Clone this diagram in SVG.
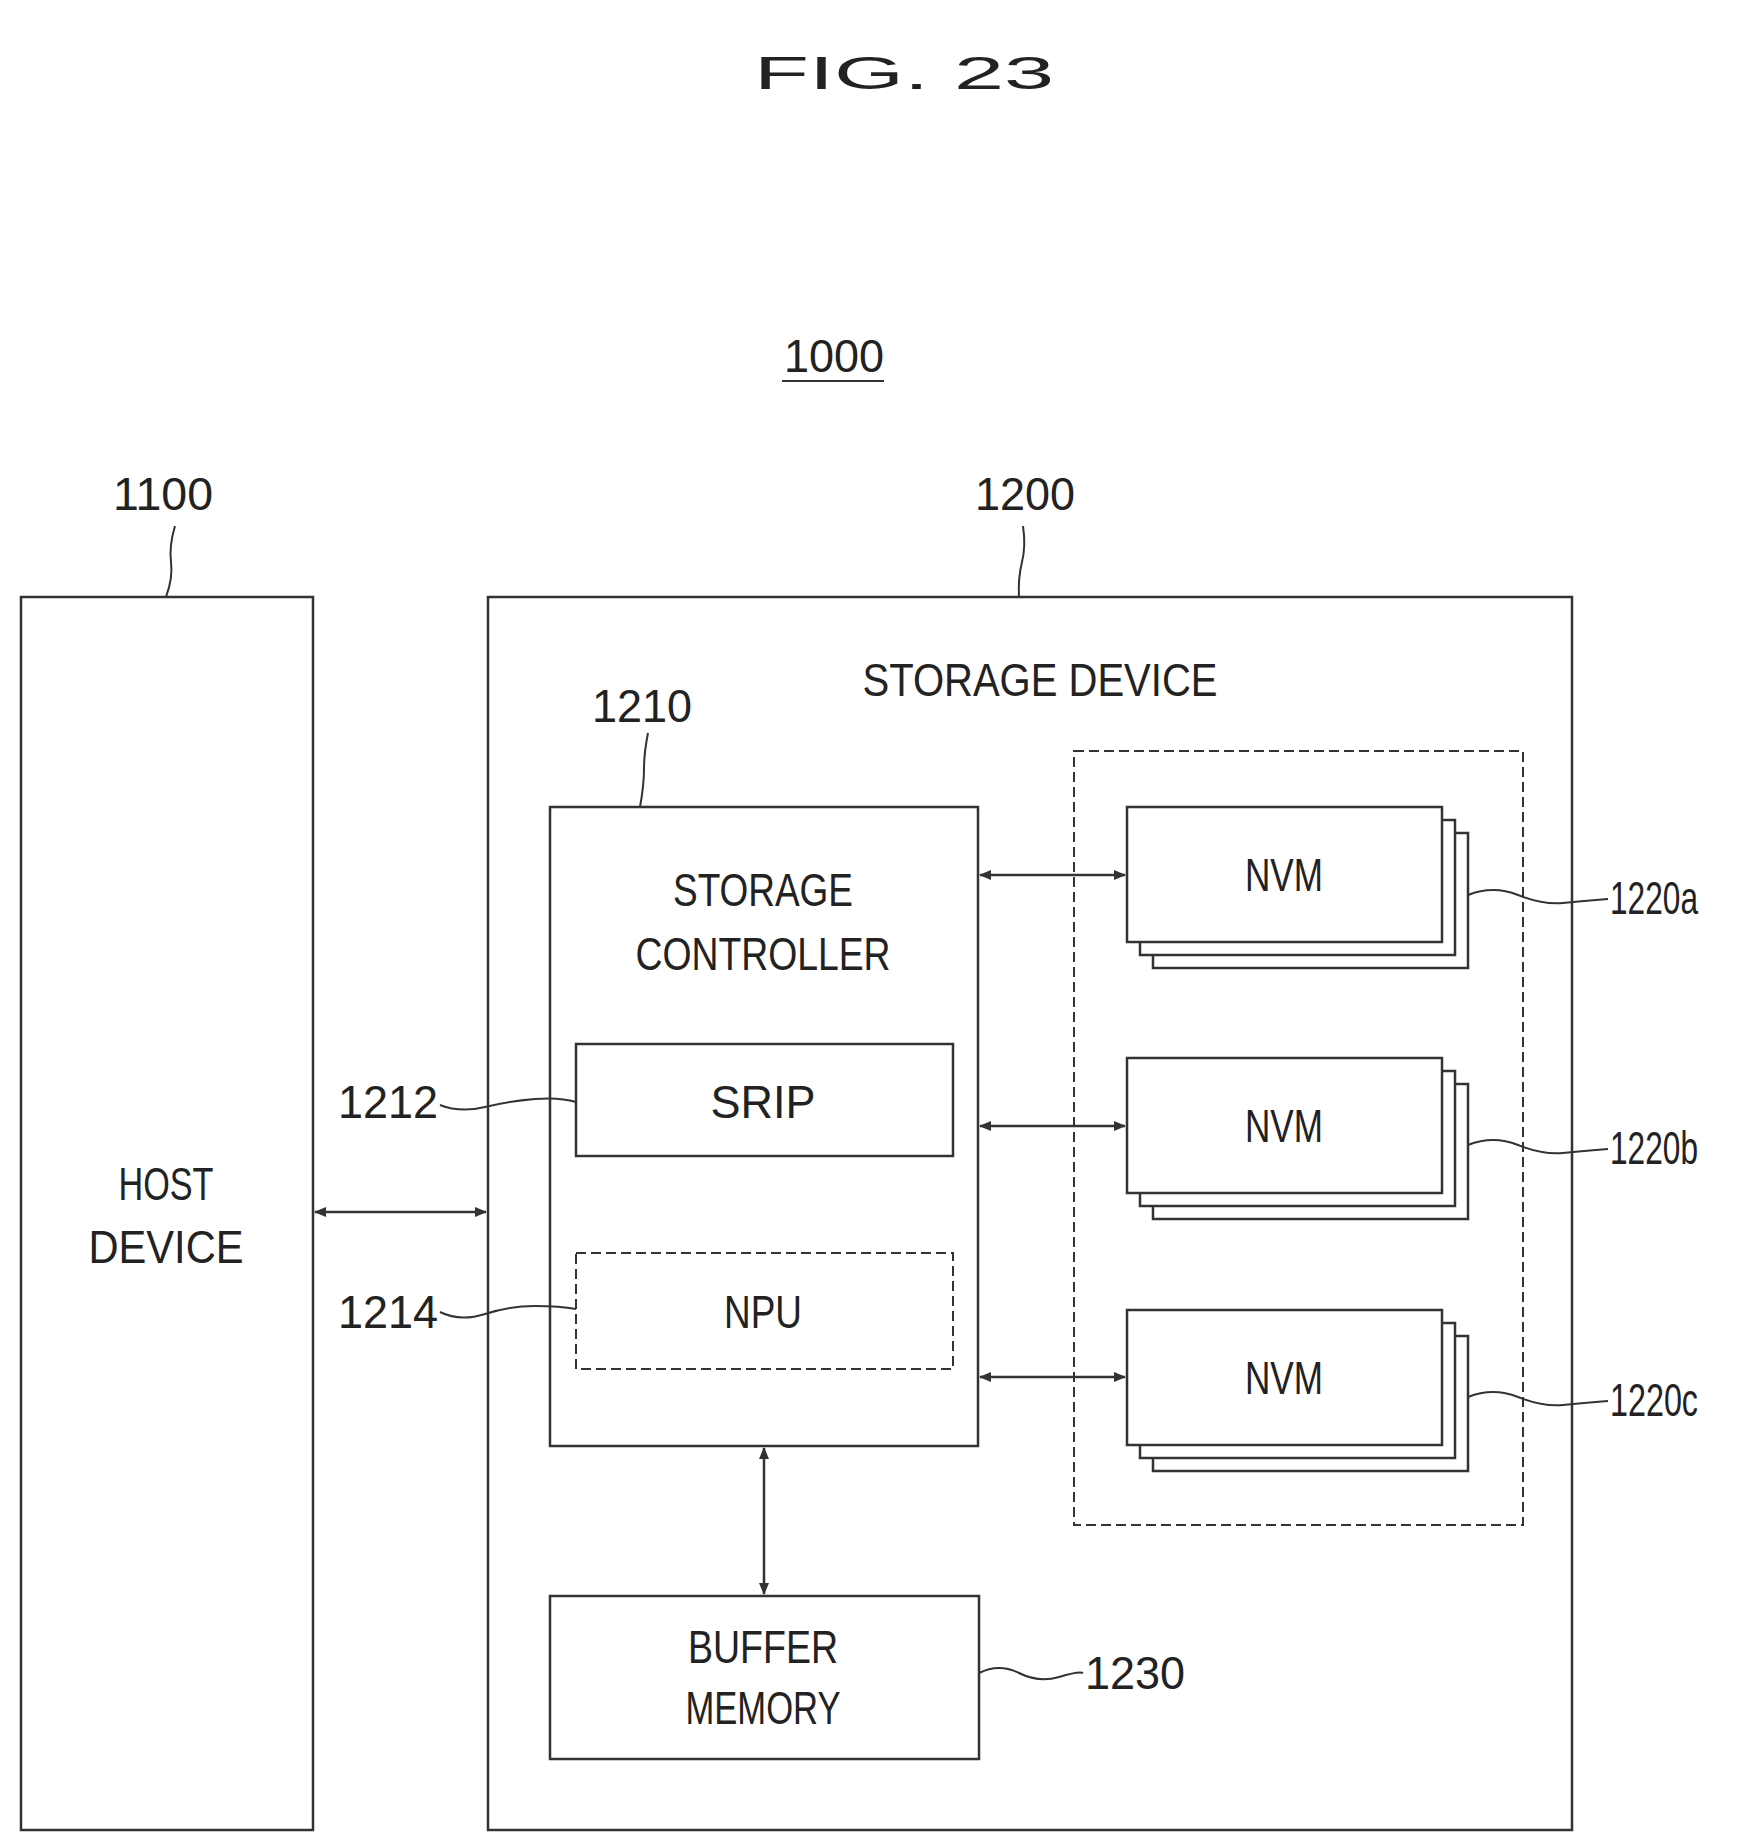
<svg xmlns="http://www.w3.org/2000/svg" width="1738" height="1838" viewBox="0 0 1738 1838">
<style>
text{font-family:"Liberation Sans",Arial,sans-serif;font-size:46px;fill:#222;text-anchor:middle}
.b{fill:#fff;stroke:#333;stroke-width:2.5}
.d{fill:none;stroke:#333;stroke-width:2;stroke-dasharray:10,5}
.l{fill:none;stroke:#333;stroke-width:2}
.c{stroke:#333;stroke-width:2.5;marker-start:url(#a);marker-end:url(#a)}
</style>
<defs><marker id="a" viewBox="0 0 12 10" refX="11" refY="5" markerWidth="12" markerHeight="10" markerUnits="userSpaceOnUse" orient="auto-start-reverse"><path d="M0,0L12,5L0,10z" fill="#333"/></marker></defs>
<text x="904" y="89" font-size="82" textLength="300" lengthAdjust="spacingAndGlyphs">FIG. 23</text>
<g id="n1000"><text x="834" y="372" textLength="100" lengthAdjust="spacingAndGlyphs">1000</text><line class="l" x1="782" y1="381" x2="884" y2="381"/></g>
<g id="host"><rect class="b" x="21" y="597" width="292" height="1233"/>
<text x="166" y="1200" textLength="95" lengthAdjust="spacingAndGlyphs">HOST</text><text x="166" y="1263" textLength="155" lengthAdjust="spacingAndGlyphs">DEVICE</text>
<text x="163" y="510" textLength="100" lengthAdjust="spacingAndGlyphs">1100</text><path class="l" d="M175,526q-6,20 -4,36t-5,35"/></g>
<g id="storage"><rect class="b" x="488" y="597" width="1084" height="1233"/>
<text x="1040" y="696" textLength="355" lengthAdjust="spacingAndGlyphs">STORAGE DEVICE</text>
<text x="1025" y="510" textLength="100" lengthAdjust="spacingAndGlyphs">1200</text><path class="l" d="M1023,526q3,20 -1,36t-3,35"/></g>
<g id="ctrl"><rect class="b" x="550" y="807" width="428" height="639"/>
<text x="763" y="906" textLength="180" lengthAdjust="spacingAndGlyphs">STORAGE</text><text x="763" y="970" textLength="255" lengthAdjust="spacingAndGlyphs">CONTROLLER</text>
<text x="642" y="722" textLength="100" lengthAdjust="spacingAndGlyphs">1210</text><path class="l" d="M648,733q-4,20 -4,36t-4,38"/></g>
<g id="srip"><rect class="b" x="576" y="1044" width="377" height="112"/><text x="763" y="1118" textLength="105" lengthAdjust="spacingAndGlyphs">SRIP</text>
<text x="388" y="1118" textLength="100" lengthAdjust="spacingAndGlyphs">1212</text><path class="l" d="M440,1105q20,8 45,2t50,-8t41,3"/></g>
<g id="npu"><rect class="d" x="576" y="1253" width="377" height="116"/><text x="763" y="1328" textLength="78" lengthAdjust="spacingAndGlyphs">NPU</text>
<text x="388" y="1328" textLength="100" lengthAdjust="spacingAndGlyphs">1214</text><path class="l" d="M440,1312q20,10 45,2t50,-8t41,3"/></g>
<g id="nvmgroup"><rect class="d" x="1074" y="751" width="449" height="774"/></g>
<g id="nvma"><rect class="b" x="1153" y="833" width="315" height="135"/><rect class="b" x="1140" y="820" width="315" height="135"/><rect class="b" x="1127" y="807" width="315" height="135"/><text x="1284" y="891" textLength="78" lengthAdjust="spacingAndGlyphs">NVM</text>
<text x="1654" y="914" textLength="88" lengthAdjust="spacingAndGlyphs">1220a</text><path class="l" d="M1468,895q25,-10 50,0t45,8t45,-4"/></g>
<g id="nvmb"><rect class="b" x="1153" y="1084" width="315" height="135"/><rect class="b" x="1140" y="1071" width="315" height="135"/><rect class="b" x="1127" y="1058" width="315" height="135"/><text x="1284" y="1142" textLength="78" lengthAdjust="spacingAndGlyphs">NVM</text>
<text x="1654" y="1164" textLength="88" lengthAdjust="spacingAndGlyphs">1220b</text><path class="l" d="M1468,1145q25,-10 50,0t45,8t45,-4"/></g>
<g id="nvmc"><rect class="b" x="1153" y="1336" width="315" height="135"/><rect class="b" x="1140" y="1323" width="315" height="135"/><rect class="b" x="1127" y="1310" width="315" height="135"/><text x="1284" y="1394" textLength="78" lengthAdjust="spacingAndGlyphs">NVM</text>
<text x="1654" y="1416" textLength="88" lengthAdjust="spacingAndGlyphs">1220c</text><path class="l" d="M1468,1397q25,-10 50,0t45,8t45,-4"/></g>
<g id="buffer"><rect class="b" x="550" y="1596" width="429" height="163"/>
<text x="763" y="1663" textLength="150" lengthAdjust="spacingAndGlyphs">BUFFER</text><text x="763" y="1724" textLength="155" lengthAdjust="spacingAndGlyphs">MEMORY</text>
<text x="1135" y="1689" textLength="100" lengthAdjust="spacingAndGlyphs">1230</text><path class="l" d="M979,1673q20,-10 40,0t40,4t24,-4"/></g>
<g id="connectors">
<line class="c" x1="315" y1="1212" x2="486" y2="1212"/>
<line class="c" x1="980" y1="875" x2="1125" y2="875"/>
<line class="c" x1="980" y1="1126" x2="1125" y2="1126"/>
<line class="c" x1="980" y1="1377" x2="1125" y2="1377"/>
<line class="c" x1="764" y1="1448" x2="764" y2="1594"/>
</g>
</svg>
